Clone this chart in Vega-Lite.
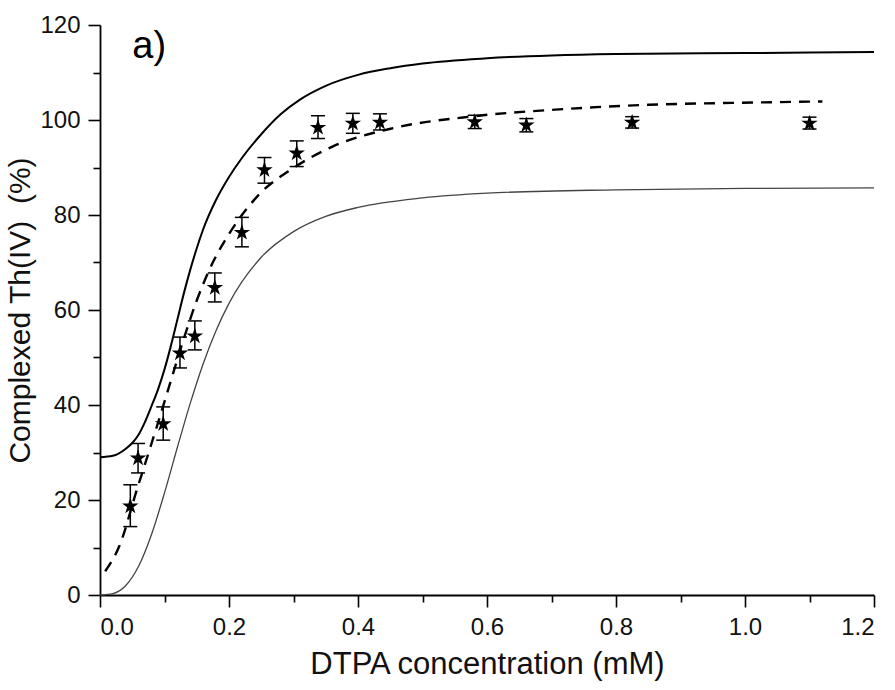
{
  "$schema": "https://vega.github.io/schema/vega-lite/v6.json",
  "width": 774,
  "height": 570,
  "autosize": {"type": "none"},
  "padding": {"left": 100, "top": 25, "right": 21, "bottom": 95},
  "background": "white",
  "config": {
    "view": {"stroke": null},
    "axis": {
      "grid": false,
      "domainColor": "black",
      "domainWidth": 1.8,
      "tickColor": "black",
      "tickWidth": 1.6,
      "labelFont": "Liberation Sans",
      "labelFontSize": 24,
      "labelColor": "#111",
      "titleFont": "Liberation Sans",
      "titleFontWeight": "normal",
      "titleColor": "#111"
    }
  },
  "datasets": {
    "pts": [
      {"x": 0.047, "y": 18.7}, {"x": 0.059, "y": 28.8}, {"x": 0.098, "y": 36.0},
      {"x": 0.124, "y": 50.9}, {"x": 0.147, "y": 54.5}, {"x": 0.178, "y": 64.7},
      {"x": 0.220, "y": 76.3}, {"x": 0.255, "y": 89.5}, {"x": 0.305, "y": 93.0},
      {"x": 0.338, "y": 98.4}, {"x": 0.392, "y": 99.3}, {"x": 0.434, "y": 99.5},
      {"x": 0.581, "y": 99.6}, {"x": 0.661, "y": 98.9}, {"x": 0.825, "y": 99.5},
      {"x": 1.100, "y": 99.3}
    ],
    "bars": [
      {"x": 0.047, "y": 14.4, "y2": 23.2},
      {"x": 0.059, "y": 25.7, "y2": 31.9},
      {"x": 0.098, "y": 32.6, "y2": 39.6},
      {"x": 0.124, "y": 47.8, "y2": 54.3},
      {"x": 0.147, "y": 51.6, "y2": 57.7},
      {"x": 0.178, "y": 61.7, "y2": 67.8},
      {"x": 0.220, "y": 73.3, "y2": 79.5},
      {"x": 0.255, "y": 86.7, "y2": 92.1},
      {"x": 0.305, "y": 90.2, "y2": 95.6},
      {"x": 0.338, "y": 96.1, "y2": 100.9},
      {"x": 0.392, "y": 97.2, "y2": 101.4},
      {"x": 0.434, "y": 97.9, "y2": 101.3},
      {"x": 0.581, "y": 98.2, "y2": 101.0},
      {"x": 0.661, "y": 97.5, "y2": 100.3},
      {"x": 0.825, "y": 98.3, "y2": 100.7},
      {"x": 1.100, "y": 98.1, "y2": 100.6}
    ],
    "caps": [
      {"x": 0.047, "y": 14.4}, {"x": 0.047, "y": 23.2},
      {"x": 0.059, "y": 25.7}, {"x": 0.059, "y": 31.9},
      {"x": 0.098, "y": 32.6}, {"x": 0.098, "y": 39.6},
      {"x": 0.124, "y": 47.8}, {"x": 0.124, "y": 54.3},
      {"x": 0.147, "y": 51.6}, {"x": 0.147, "y": 57.7},
      {"x": 0.178, "y": 61.7}, {"x": 0.178, "y": 67.8},
      {"x": 0.220, "y": 73.3}, {"x": 0.220, "y": 79.5},
      {"x": 0.255, "y": 86.7}, {"x": 0.255, "y": 92.1},
      {"x": 0.305, "y": 90.2}, {"x": 0.305, "y": 95.6},
      {"x": 0.338, "y": 96.1}, {"x": 0.338, "y": 100.9},
      {"x": 0.392, "y": 97.2}, {"x": 0.392, "y": 101.4},
      {"x": 0.434, "y": 97.9}, {"x": 0.434, "y": 101.3},
      {"x": 0.581, "y": 98.2}, {"x": 0.581, "y": 101.0},
      {"x": 0.661, "y": 97.5}, {"x": 0.661, "y": 100.3},
      {"x": 0.825, "y": 98.3}, {"x": 0.825, "y": 100.7},
      {"x": 1.100, "y": 98.1}, {"x": 1.100, "y": 100.6}
    ],
    "upper": [
      {"x": 0, "y": 29.0}, {"x": 0.02, "y": 29.3}, {"x": 0.04, "y": 30.8},
      {"x": 0.05, "y": 32.0}, {"x": 0.06, "y": 33.8}, {"x": 0.07, "y": 36.5},
      {"x": 0.08, "y": 39.8}, {"x": 0.09, "y": 43.3}, {"x": 0.10, "y": 47.5},
      {"x": 0.11, "y": 52.5}, {"x": 0.12, "y": 58.0}, {"x": 0.13, "y": 63.5},
      {"x": 0.14, "y": 68.5}, {"x": 0.15, "y": 73.0}, {"x": 0.16, "y": 77.0},
      {"x": 0.18, "y": 83.2}, {"x": 0.20, "y": 88.0}, {"x": 0.22, "y": 92.0},
      {"x": 0.25, "y": 97.0}, {"x": 0.28, "y": 101.2}, {"x": 0.31, "y": 104.3},
      {"x": 0.35, "y": 107.2}, {"x": 0.40, "y": 109.5}, {"x": 0.45, "y": 110.9},
      {"x": 0.50, "y": 111.9}, {"x": 0.60, "y": 113.0}, {"x": 0.70, "y": 113.6},
      {"x": 0.80, "y": 113.9}, {"x": 1.00, "y": 114.1}, {"x": 1.20, "y": 114.3}
    ],
    "lower": [
      {"x": 0, "y": 0}, {"x": 0.02, "y": 0.3}, {"x": 0.04, "y": 2.0},
      {"x": 0.06, "y": 6.1}, {"x": 0.08, "y": 12.8}, {"x": 0.10, "y": 21.5},
      {"x": 0.12, "y": 31.1}, {"x": 0.14, "y": 40.4}, {"x": 0.16, "y": 48.7},
      {"x": 0.18, "y": 55.7}, {"x": 0.20, "y": 61.4}, {"x": 0.25, "y": 71.1},
      {"x": 0.30, "y": 76.5}, {"x": 0.35, "y": 79.7}, {"x": 0.40, "y": 81.6},
      {"x": 0.50, "y": 83.6}, {"x": 0.60, "y": 84.6}, {"x": 0.80, "y": 85.3},
      {"x": 1.00, "y": 85.6}, {"x": 1.20, "y": 85.7}
    ],
    "fit": [
      {"x": 0.008, "y": 5.0}, {"x": 0.03, "y": 10.3}, {"x": 0.057, "y": 22.1},
      {"x": 0.088, "y": 35.4}, {"x": 0.113, "y": 46.5}, {"x": 0.13, "y": 54.0},
      {"x": 0.15, "y": 62.0}, {"x": 0.176, "y": 70.3}, {"x": 0.20, "y": 76.0},
      {"x": 0.248, "y": 84.5}, {"x": 0.30, "y": 89.9}, {"x": 0.362, "y": 94.5},
      {"x": 0.455, "y": 98.3}, {"x": 0.58, "y": 100.8}, {"x": 0.72, "y": 102.3},
      {"x": 0.85, "y": 103.2}, {"x": 0.98, "y": 103.6}, {"x": 1.12, "y": 103.9}
    ],
    "label": [{"x": 0.05, "y": 115.3, "text": "a)"}]
  },
  "encoding": {
    "x": {
      "field": "x", "type": "quantitative",
      "scale": {"domain": [0, 1.2], "nice": false, "zero": false},
      "axis": {
        "title": "DTPA concentration (mM)",
        "titleFontSize": 31,
        "values": [0, 0.1, 0.2, 0.3, 0.4, 0.5, 0.6, 0.7, 0.8, 0.9, 1.0, 1.1, 1.2],
        "labelExpr": "round(datum.value*10) % 2 === 1 ? '' : format(datum.value, '.1f')",
        "tickSize": {"condition": {"test": "round(datum.value*10) % 2 === 1", "value": 7}, "value": 12},
        "labelPadding": 8,
        "titlePadding": 10
      }
    },
    "y": {
      "field": "y", "type": "quantitative",
      "scale": {"domain": [0, 120], "nice": false},
      "axis": {
        "title": "Complexed Th(IV)\u00a0 (%)",
        "titleFontSize": 30,
        "values": [0, 10, 20, 30, 40, 50, 60, 70, 80, 90, 100, 110, 120],
        "labelExpr": "datum.value % 20 !== 0 ? '' : datum.label",
        "tickSize": {"condition": {"test": "datum.value % 20 !== 0", "value": 7}, "value": 12},
        "labelPadding": 8,
        "titlePadding": 4,
        "encode": {"title": {"update": {"dx": {"value": 32}}}}
      }
    }
  },
  "layer": [
    {
      "data": {"name": "upper"},
      "mark": {"type": "line", "color": "black", "strokeWidth": 2, "interpolate": "monotone"}
    },
    {
      "data": {"name": "lower"},
      "mark": {"type": "line", "color": "#444", "strokeWidth": 1.3, "interpolate": "monotone"}
    },
    {
      "data": {"name": "fit"},
      "mark": {"type": "line", "color": "black", "strokeWidth": 2.4, "strokeDash": [11, 8], "interpolate": "monotone"}
    },
    {
      "data": {"name": "bars"},
      "mark": {"type": "rule", "color": "black", "strokeWidth": 1.5},
      "encoding": {"y2": {"field": "y2"}}
    },
    {
      "data": {"name": "caps"},
      "mark": {"type": "tick", "orient": "horizontal", "size": 14, "thickness": 1.5, "color": "black", "opacity": 1}
    },
    {
      "data": {"name": "pts"},
      "mark": {
        "type": "point", "filled": true, "color": "black", "opacity": 1, "size": 300,
        "shape": "M0,-1L0.2245,-0.309L0.951,-0.309L0.363,0.118L0.588,0.809L0,0.382L-0.588,0.809L-0.363,0.118L-0.951,-0.309L-0.2245,-0.309Z"
      }
    },
    {
      "data": {"name": "label"},
      "mark": {"type": "text", "font": "Liberation Sans", "fontSize": 38, "align": "left", "baseline": "middle", "color": "black"},
      "encoding": {"text": {"field": "text"}}
    }
  ]
}
